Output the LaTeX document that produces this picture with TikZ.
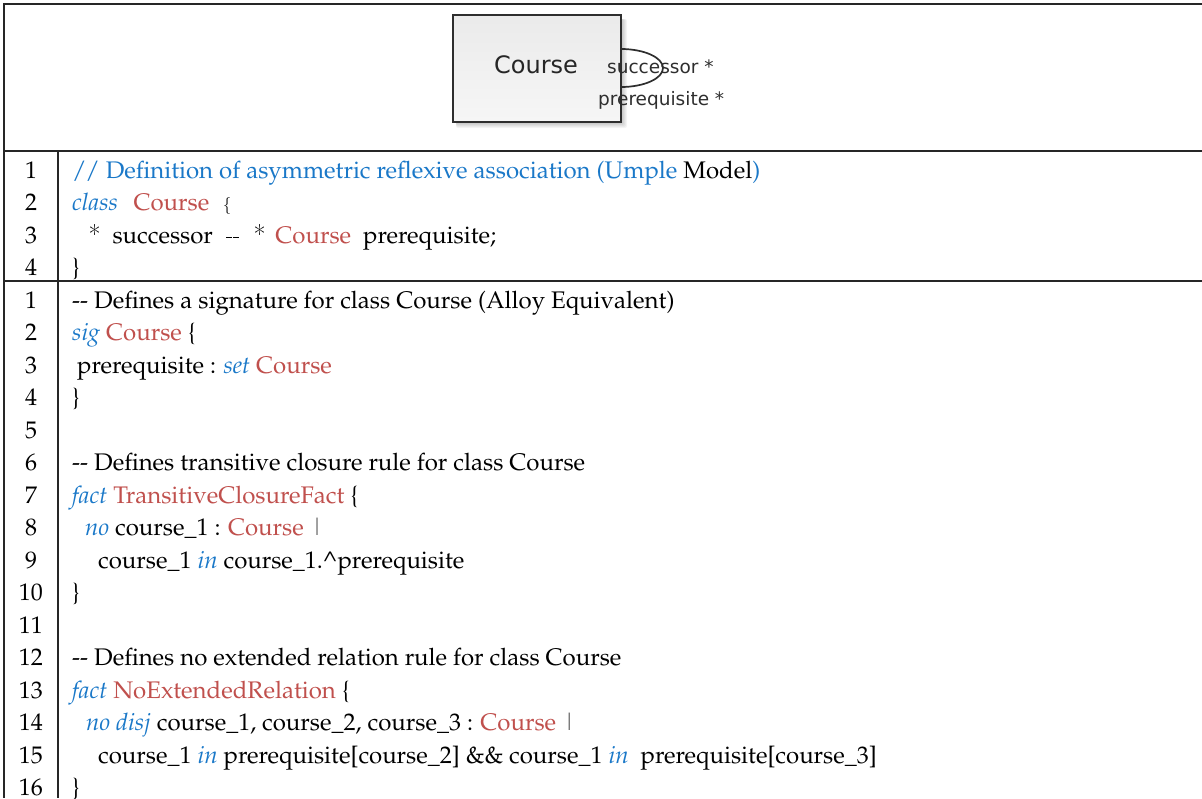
\documentclass[tikz,border=0pt]{standalone}
\usepackage[T1]{fontenc}
\usepackage{fontspec}
\newfontfamily\umlfont{DejaVu Sans}
\definecolor{kwblue}{HTML}{1A78C8}
\definecolor{tyred}{HTML}{C0504D}
\definecolor{umlgray}{HTML}{2E2E2E}
\newcommand\codefont{\fontencoding{T1}\fontfamily{ppl}\fontsize{24}{28}\selectfont}
\newcommand\ckw[1]{\textcolor{kwblue}{\itshape #1}}
\newcommand\cty[1]{\textcolor{tyred}{#1}}
\newcommand\cmono[1]{{\fontencoding{T1}\fontfamily{lmtt}\selectfont #1}}
\newcommand\cbar{\textcolor{black!55}{\textbar}}
\tikzset{
  rule/.style={line width=1.3pt, draw=black!85},
  codeline/.style={anchor=base west, inner sep=0pt, font=\codefont},
  lnum/.style={anchor=base, inner sep=0pt, font=\codefont},
  classbox/.style={draw=umlgray, line width=1.4pt, top color=gray!16, bottom color=gray!7},
  role/.style={inner sep=0pt, font=\umlfont\fontsize{18.5}{20}\selectfont, text=umlgray},
}
\begin{document}
\begin{tikzpicture}[x=1pt,y=-1pt]
\useasboundingbox (0,0) rectangle (1202,798);

% table frame
\draw[rule] (1202,4) -- (4,4) -- (4,798);
\draw[rule] (4,151) -- (1202,151);
\draw[rule] (4,281) -- (1202,281);
\draw[rule] (58,151) -- (58,798);

% UML class with reflexive association
\foreach \s in {1,...,6}
  \fill[black, opacity=0.045, rounded corners=2pt] (456,19) rectangle ({621+\s},{122+\s});
\shade[classbox] (453,15) rectangle (621,122);
\node[inner sep=0pt, font=\umlfont\fontsize{24}{26}\selectfont, text=black!85] (course) at (536,65) {Course};
\coordinate (loopa) at (621,49);
\coordinate (loopb) at (621,87);
\draw[umlgray, line width=1.7pt] (loopa) arc[start angle=-90, end angle=90, x radius=42, y radius=19];
\node[role, anchor=west] (succ) at (607,67) {successor *};
\node[role, anchor=west] (prereq) at (598,100) {prerequisite *};

% Umple model
\foreach \i/\y in {1/170, 2/202.3, 3/234.6, 4/267}
  \node[lnum] (nu\i) at (31,\y+8.5) {\i};
\node[codeline] (u1) at (72,178.5) {\textcolor{kwblue}{/\kern-1.5pt/ Definition of asymmetric reflexive association (Umple} Model\textcolor{kwblue}{)}};
\node[codeline] (u2) at (72,210.8) {\ckw{class}\hspace{0.65em}\cty{Course}\hspace{0.6em}{\fontsize{18}{20}\selectfont\cmono{\{}}};
\node[codeline] (u3) at (72,243.1) {\hspace*{17pt}\cmono{*}\hspace{0.5em}successor\hspace{0.55em}{\fontsize{26}{28}\selectfont\cmono{-{}-}}\hspace{0.55em}\cmono{*}\hspace{0.4em}\cty{Course}\hspace{0.5em}prerequisite;};
\node[codeline] (u4) at (72,275.5) {\}};

% Alloy equivalent
\foreach \i in {1,...,16}
  \node[lnum] (na\i) at (31,{300+(\i-1)*32.47+8.5}) {\i};
\newcommand\ay[1]{300+(#1-1)*32.47+8.5}
\node[codeline] (a1) at (72,{\ay{1}}) {-{}- Defines a signature for class Course (Alloy Equivalent)};
\node[codeline] (a2) at (72,{\ay{2}}) {\ckw{sig} \cty{Course} \{};
\node[codeline] (a3) at (72,{\ay{3}}) {\hspace*{5pt}prerequisite : \ckw{set} \cty{Course}};
\node[codeline] (a4) at (72,{\ay{4}}) {\}};
\node[codeline] (a6) at (72,{\ay{6}}) {-{}- Defines transitive closure rule for class Course};
\node[codeline] (a7) at (72,{\ay{7}}) {\ckw{fact} \cty{TransitiveClosureFact} \{};
\node[codeline] (a8) at (72,{\ay{8}}) {\hspace*{13pt}\ckw{no} course\_1 : \cty{Course} \cbar};
\node[codeline] (a9) at (72,{\ay{9}}) {\hspace*{26pt}course\_1 \ckw{in} course\_1.\textasciicircum prerequisite};
\node[codeline] (a10) at (72,{\ay{10}}) {\}};
\node[codeline] (a12) at (72,{\ay{12}}) {-{}- Defines no extended relation rule for class Course};
\node[codeline] (a13) at (72,{\ay{13}}) {\ckw{fact} \cty{NoExtendedRelation} \{};
\node[codeline] (a14) at (72,{\ay{14}}) {\hspace*{14pt}\ckw{no disj} course\_1, course\_2, course\_3 : \cty{Course} \cbar};
\node[codeline] (a15) at (72,{\ay{15}}) {\hspace*{26pt}course\_1 \ckw{in} prerequisite[course\_2] \&\& course\_1 \ckw{in}\ \ prerequisite[course\_3]};
\node[codeline] (a16) at (72,{\ay{16}}) {\}};
\end{tikzpicture}
\end{document}
